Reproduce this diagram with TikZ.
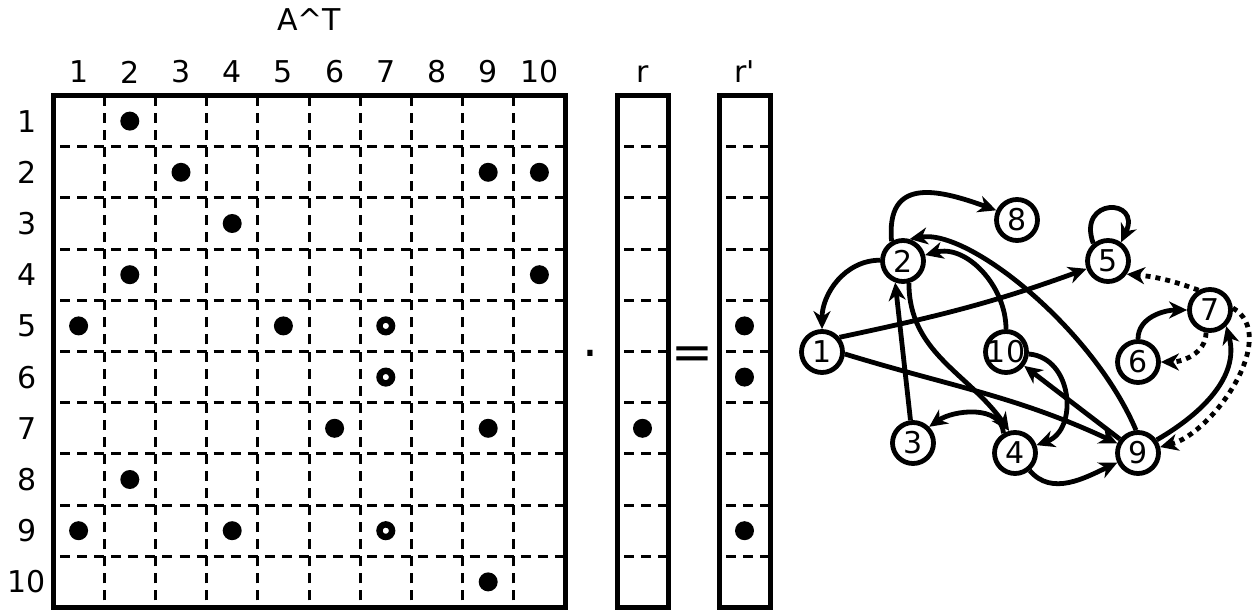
\documentclass[tikz,border=0pt]{standalone}
\usepackage{fontspec}
\setmainfont{DejaVu Sans}
\usetikzlibrary{arrows.meta}
\tikzset{
  numfont/.style={font=\fontsize{15}{18}\selectfont},
  opfont/.style={font=\fontsize{25}{30}\selectfont},
  vtx/.style={circle, draw, line width=2.4pt, minimum size=20.5pt, inner sep=0pt, numfont},
  link/.style={line width=2.4pt, -{Stealth[length=9pt,width=8.5pt,inset=2.8pt]}},
  dotlink/.style={link, dash pattern=on 2.5pt off 2.5pt},
  griddash/.style={line width=1.5pt, dash pattern=on 5pt off 3.533pt, dash phase=5pt},
  box/.style={line width=2.5pt}
}

\begin{document}
\begin{tikzpicture}[x=0.5pt, y=0.5pt]
  \useasboundingbox (0,0) rectangle (1253,611);
  % matrix A^T and the two vectors
  \foreach \k in {1,...,9} {
    \draw[griddash] ({53+51.2*\k},3.5) -- ({53+51.2*\k},515.5);
    \draw[griddash] (53,{3.5+51.2*\k}) -- (565,{3.5+51.2*\k});
    \draw[griddash] (617,{3.5+51.2*\k}) -- (668,{3.5+51.2*\k});
    \draw[griddash] (719,{3.5+51.2*\k}) -- (770,{3.5+51.2*\k});
  }
  \draw[box] (53,3.5) rectangle (565,515.5);
  \draw[box] (617,3.5) rectangle (668,515.5);
  \draw[box] (719,3.5) rectangle (770,515.5);
  \foreach \k in {1,...,10} {
    \node[numfont] (col\k) at ({53+51.2*(\k-0.5)},539) {\k};
    \node[numfont] (row\k) at (27,{515.5-51.2*(\k-0.5)}) {\k};
  }
  \node[numfont, anchor=base] (atlabel) at (309,580) {A\textasciicircum T};
  \node[numfont, anchor=base] (rlabel) at (642.5,528) {r};
  \node[numfont, anchor=base] (rplabel) at (744.5,528) {r\textquotesingle};
  \node[opfont, anchor=base] (dotop) at (590,254) {.};
  \node[opfont, anchor=base] (eqop) at (692,242) {=};
  % entries
  \foreach \r/\c in {1/2,2/3,2/9,2/10,3/4,4/2,4/10,5/1,5/5,7/6,7/9,8/2,9/1,9/4,10/9} {
    \fill ({53+51.2*(\c-0.5)},{515.5-51.2*(\r-0.5)}) circle[radius=9.5];
  }
  \foreach \r in {5,6,9} {
    \draw[line width=3.2pt] ({53+51.2*6.5},{515.5-51.2*(\r-0.5)}) circle[radius=6.3];
    \fill (744.5,{515.5-51.2*(\r-0.5)}) circle[radius=9.5];
  }
  \fill (642.5,{515.5-51.2*6.5}) circle[radius=9.5];
  % graph
  \node[vtx] (v1) at (822,259) {1};
  \node[vtx] (v2) at (903,350) {2};
  \node[vtx] (v3) at (913,168) {3};
  \node[vtx] (v4) at (1015,158) {4};
  \node[vtx] (v5) at (1108,350) {5};
  \node[vtx] (v6) at (1138,249) {6};
  \node[vtx] (v7) at (1210,301) {7};
  \node[vtx] (v8) at (1017,391) {8};
  \node[vtx] (v9) at (1138,158) {9};
  \node[vtx] (v10) at (1006,259) {\makebox[0pt]{10}};
  \draw[link] (v2.120) to[out=95,in=160,looseness=1.5] (v8.155);
  \draw[link] (v2.178) to[out=180,in=90] (v1);
  \draw[link] (v1.40) to[out=12,in=200] (v5);
  \draw[link] (v1.-5) to[out=-17,in=155] (v9);
  \draw[link] (v9.95) to[out=113,in=10,out distance=55pt,in distance=30pt] (v2.73);
  \draw[link] (v10) to[out=90,in=15] (v2);
  \draw[link] (v2.-75) to[out=-90,in=125] (v4.105);
  \draw[link] (v3) -- (v2.-110);
  \draw[link] (v4.120) to[out=95,in=35] (v3.45);
  \draw[link] (v10) to[out=-5,in=20,looseness=1.25] (v4);
  \draw[link] (v9) -- (v10);
  \draw[link] (v4) to[out=-50,in=-155] (v9);
  \draw[link] (v9.35) to[out=30,in=-75] (v7.-45);
  \draw[link] (v6) to[out=90,in=180] (v7);
  \draw[link] (v5.130) to[out=110,in=65,looseness=4.5] (v5.55);
  \draw[dotlink] (v7.120) to[out=160,in=-5] (v5.-35);
  \draw[dotlink] (v7.-100) to[out=-90,in=0] (v6);
  \draw[dotlink] (v7.5) to[out=-30,in=15,looseness=0.9] (v9);
\end{tikzpicture}
\end{document}
